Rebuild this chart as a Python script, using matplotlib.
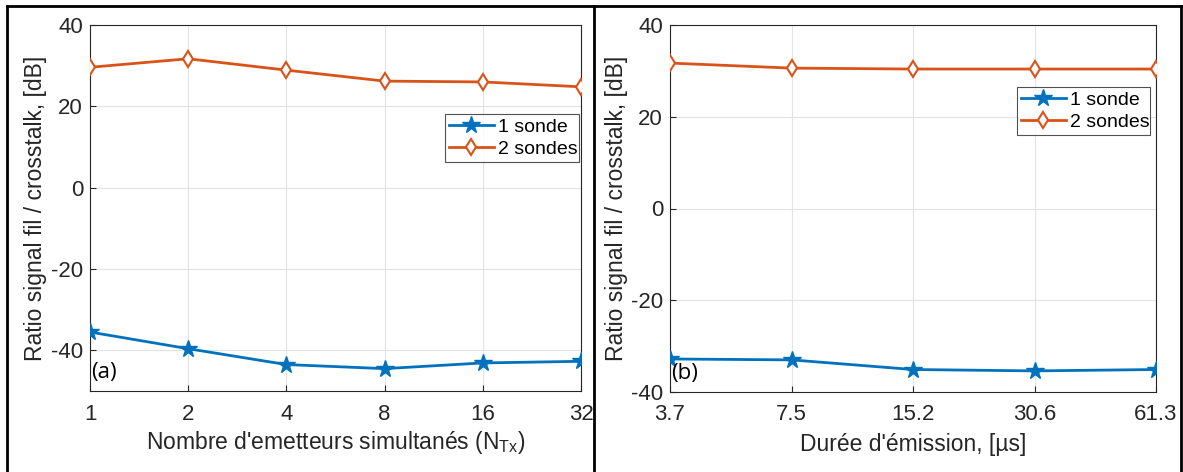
import matplotlib
matplotlib.use("Agg")
import matplotlib.pyplot as plt
from matplotlib.lines import Line2D

plt.rcParams['font.family'] = ['Liberation Sans', 'DejaVu Sans']
plt.rcParams['axes.unicode_minus'] = False

# ---- data ----
ntx_labels = ['1', '2', '4', '8', '16', '32']
a_1sonde = [-35.5, -39.6, -43.5, -44.5, -43.1, -42.7]
a_2sondes = [29.6, 31.7, 28.9, 26.2, 26.0, 24.8]

dur_labels = ['3.7', '7.5', '15.2', '30.6', '61.3']
b_1sonde = [-32.8, -33.0, -35.1, -35.4, -35.1]
b_2sondes = [31.7, 30.6, 30.4, 30.4, 30.4]

series_names = ['1 sonde', '2 sondes']
ylabel = 'Ratio signal fil / crosstalk, [dB]'
xlabel_a = "Nombre d'emetteurs simultanés (N$_{\\mathregular{Tx}}$)"
xlabel_b = "Durée d'émission, [µs]"

BLUE = '#0072BD'
ORANGE = '#D95319'
W, H = 1183, 472

fig = plt.figure(figsize=(W / 100, H / 100), dpi=100)

def box(l, r, b, t):
    return [l / W, 1 - b / H, (r - l) / W, (b - t) / H]

def panel(rect, labels, s1, s2, ylim, xlabel, tag, legrect):
    ax = fig.add_axes(rect)
    x = list(range(len(labels)))
    ax.plot(x, s1, '-', color=BLUE, lw=2, marker='*', ms=13, mfc=BLUE, mec=BLUE, label=series_names[0], zorder=3)
    ax.plot(x, s2, '-', color=ORANGE, lw=2, marker='d', ms=8, mfc='white', mec=ORANGE, mew=1.5, label=series_names[1], zorder=3)
    ax.set_xlim(0, len(labels) - 1)
    ax.set_ylim(*ylim)
    ax.set_xticks(x)
    ax.set_xticklabels(labels)
    ax.set_yticks([40, 20, 0, -20, -40])
    ax.grid(True, color='#e3e3e3', lw=0.8)
    ax.set_axisbelow(True)
    for sp in ax.spines.values():
        sp.set_color('#262626')
        sp.set_linewidth(0.8)
    ax.tick_params(direction='in', length=4, colors='#262626', labelsize=16)
    ax.tick_params(axis='x', pad=9)
    ax.tick_params(axis='y', pad=5)
    for t in ax.get_xticklabels() + ax.get_yticklabels():
        t.set_color('#262626')
        t.set_clip_on(False)
    ax.set_ylabel(ylabel, fontsize=16.5, color='#262626')
    ax.yaxis.set_label_coords(-0.11, 0.5)
    ax.set_xlabel(xlabel, fontsize=16.5, color='#262626')
    ax.xaxis.set_label_coords(0.5, -0.142)
    ax.xaxis.label.set_va('center')
    ax.yaxis.label.set_va('center')
    ax.text(0.003, 0.05, tag, transform=ax.transAxes, fontsize=16,
            family=['Open Sans', 'DejaVu Sans'], color='black', va='center', ha='left')
    leg = ax.legend(loc='lower left', bbox_to_anchor=legrect, bbox_transform=fig.transFigure,
                    mode='expand', fontsize=14, frameon=True, fancybox=False,
                    borderaxespad=0, handlelength=2.3, handletextpad=0.2,
                    labelspacing=0.25, borderpad=0.2)
    leg.get_frame().set_edgecolor('#262626')
    leg.get_frame().set_linewidth(0.8)
    return ax

panel(box(90, 581, 391, 25), ntx_labels, a_1sonde, a_2sondes, (-50, 40), xlabel_a, '(a)',
      box(445, 579, 162, 107))
panel(box(670, 1156, 392, 25), dur_labels, b_1sonde, b_2sondes, (-40, 40), xlabel_b, '(b)',
      box(1017, 1150, 135, 81))

# panel frames
for xs, ys in [([7 / W, 1181 / W], [1 - 6 / H, 1 - 6 / H]),
               ([7 / W, 7 / W], [0, 1 - 6 / H]),
               ([594 / W, 594 / W], [0, 1 - 6 / H]),
               ([1181 / W, 1181 / W], [0, 1 - 6 / H])]:
    fig.add_artist(Line2D(xs, ys, color='black', lw=2, transform=fig.transFigure))

fig.savefig('out.png', dpi=100)
